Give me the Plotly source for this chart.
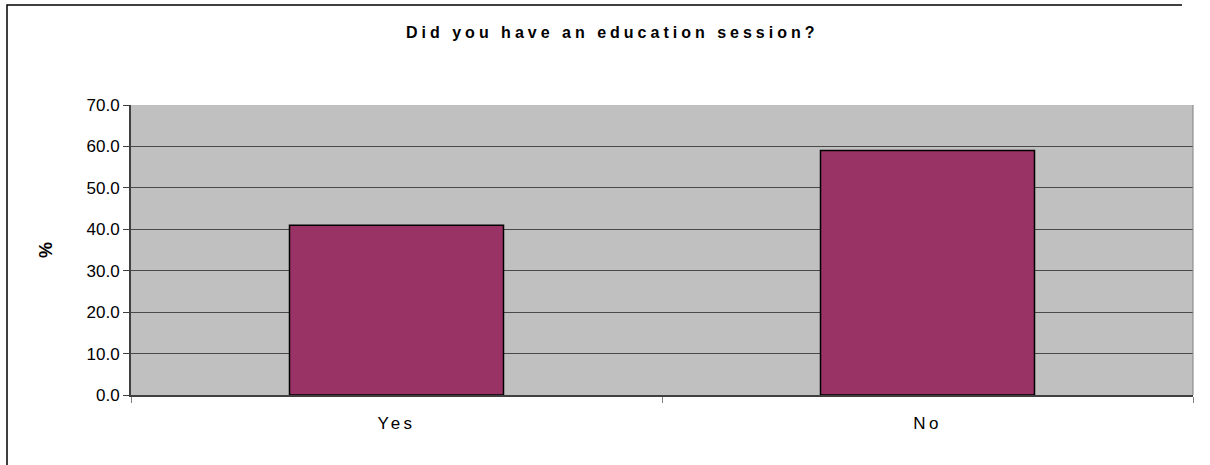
import plotly.graph_objects as go

categories = ["Yes", "No"]
values = [41.0, 59.0]
y_ticks = [0, 10, 20, 30, 40, 50, 60, 70]
title_text = "Did you have an education session?"
y_title = "%"

L, R, T, B = 131, 17, 105, 70
W, H = 1210, 465
pw = W - L - R
ph = H - T - B
FONT = "Liberation Sans, Arial, sans-serif"


def spaced(s, px):
    return '<span style="letter-spacing:%spx">%s</span>' % (px, s)


fig = go.Figure()
fig.add_trace(go.Bar(
    x=categories, y=values,
    marker=dict(color="#993366", line=dict(color="#000000", width=1.5)),
    width=0.403,
))

fig.update_layout(
    width=W, height=H,
    margin=dict(l=L, r=R, t=T, b=B),
    paper_bgcolor="white",
    plot_bgcolor="#C0C0C0",
    showlegend=False,
    font=dict(family=FONT, color="#000000", size=17),
)

fig.update_xaxes(
    type="category",
    tickson="boundaries",
    tickvals=categories,
    ticktext=[spaced(c, 3.5) for c in categories],
    ticks="outside", ticklen=6, tickcolor="#808080", tickwidth=1,
    showline=True, linecolor="#404040", linewidth=2,
    showgrid=False,
    tickfont=dict(size=17),
    ticklabelstandoff=12,
)
fig.update_yaxes(
    range=[0, 70], tickvals=y_ticks, tickformat=".1f",
    ticks="outside", ticklen=6, tickcolor="#404040", tickwidth=1,
    showline=True, linecolor="#404040", linewidth=2,
    showgrid=True, gridcolor="#4a4a4a", gridwidth=1.2,
    zeroline=False,
    tickfont=dict(size=17),
)

# title
fig.add_annotation(
    text="<b>" + spaced(title_text, 4) + "</b>",
    xref="paper", yref="paper",
    x=(612 - L) / pw, y=1 + (T - 33) / ph,
    xanchor="center", yanchor="middle",
    showarrow=False, font=dict(size=16, family=FONT),
)
# y axis title
fig.add_annotation(
    text="<b>" + y_title + "</b>",
    xref="paper", yref="paper",
    x=(46 - L) / pw, y=(H - B - 250) / ph,
    xanchor="center", yanchor="middle", textangle=-90,
    showarrow=False, font=dict(size=18),
)
# right plot-area edge
fig.add_shape(type="line", xref="paper", yref="paper",
              x0=1, x1=1, y0=0, y1=1, line=dict(color="#808080", width=1))
# outer chart border: left edge and top edge
bx0 = (7 - L) / pw
by0 = -(B + 60) / ph
by1 = 1 + (T - 5) / ph
bx1 = (1182 - L) / pw
fig.add_shape(type="path", xref="paper", yref="paper",
              path="M %f,%f L %f,%f L %f,%f" % (bx0, by0, bx0, by1, bx1, by1),
              line=dict(color="#000000", width=1.5))

fig.write_html("out.html")
